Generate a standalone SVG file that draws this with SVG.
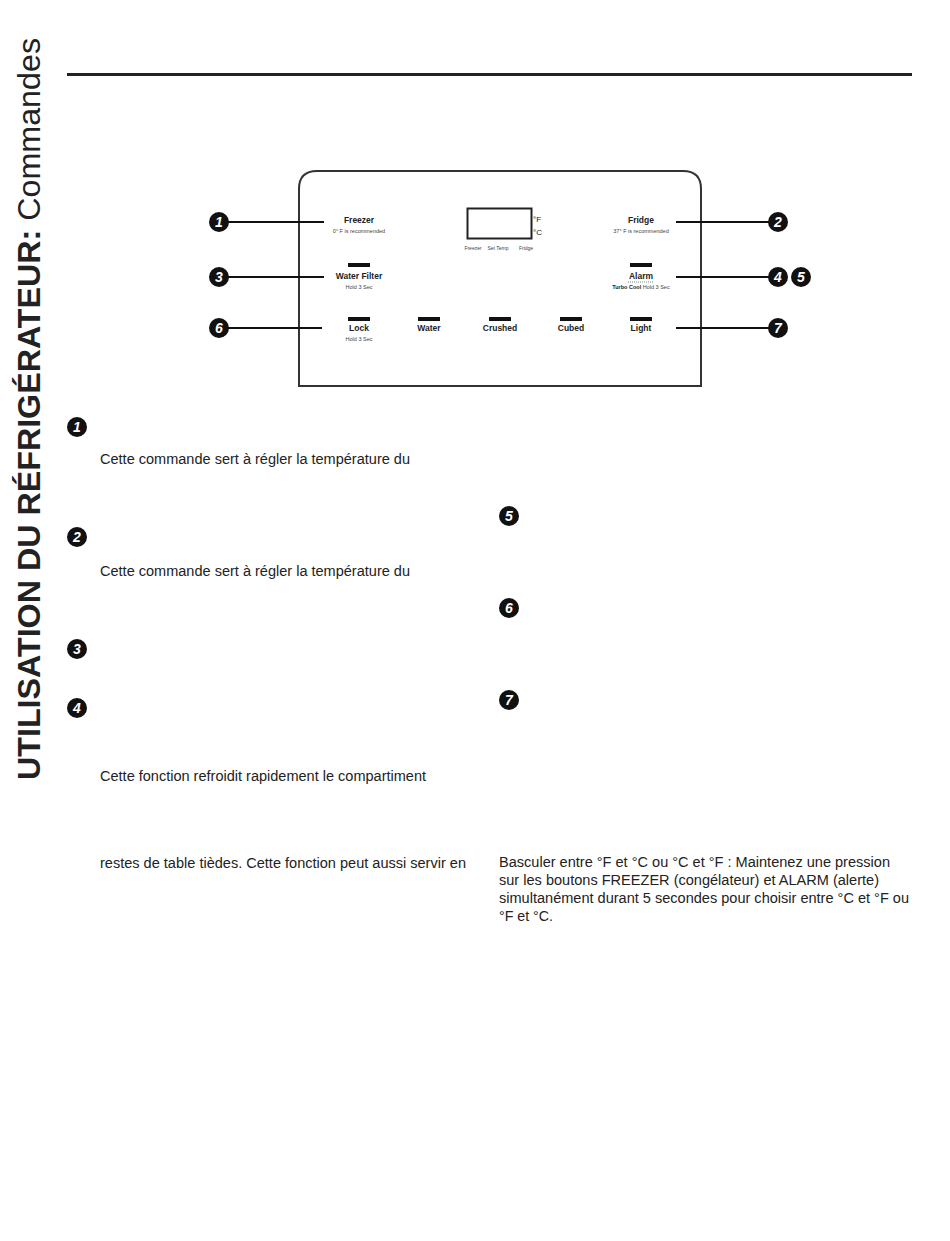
<svg xmlns="http://www.w3.org/2000/svg" width="950" height="1241" viewBox="0 0 950 1241">
<style>
.title{font-family:"Liberation Sans",Arial,sans-serif;font-size:32px;fill:#222}
.body{font-family:"Liberation Sans",Arial,sans-serif;font-size:14px;fill:#222}
.lbl{font-family:"Liberation Sans",Arial,sans-serif;font-size:8.5px;font-weight:bold;fill:#222;text-anchor:middle}
.sm{font-family:"Liberation Sans",Arial,sans-serif;font-size:5.5px;fill:#444;text-anchor:middle}
.tiny{font-family:"Liberation Sans",Arial,sans-serif;font-size:5px;fill:#444;text-anchor:middle}
.unit{font-family:"Liberation Sans",Arial,sans-serif;font-size:8px;fill:#222}
.mk circle{fill:#111}
.mk text{font-family:"Liberation Sans",Arial,sans-serif;font-style:italic;font-weight:bold;font-size:14px;fill:#fff;text-anchor:middle}
.bar{fill:#111}
.conn line{stroke:#111;stroke-width:2}
</style>
<rect width="950" height="1241" fill="#fff"/>
<text class="title" transform="translate(40,780) rotate(-90)" textLength="742" lengthAdjust="spacingAndGlyphs"><tspan font-weight="bold">UTILISATION DU RÉFRIGÉRATEUR:</tspan> Commandes</text>
<rect x="67" y="73" width="845" height="3" fill="#222"/>

<g id="panel">
<path d="M299 386 V189 Q299 171 317 171 H683 Q701 171 701 189 V386 Z" fill="none" stroke="#333" stroke-width="2"/>
<rect x="467.5" y="208.5" width="64" height="30" fill="none" stroke="#222" stroke-width="2"/>
<text class="unit" x="533" y="222">°F</text>
<text class="unit" x="533" y="235">°C</text>
<text class="tiny" x="473" y="250">Freezer</text>
<text class="tiny" x="498" y="250">Set Temp</text>
<text class="tiny" x="526" y="250">Fridge</text>
</g>

<g id="freezer"><text class="lbl" x="359" y="223">Freezer</text><text class="sm" x="359" y="233">0° F is recommended</text></g>
<g id="fridge"><text class="lbl" x="641" y="223">Fridge</text><text class="sm" x="641" y="233">37° F is recommended</text></g>
<g id="waterfilter"><rect class="bar" x="348" y="263" width="22" height="4"/><text class="lbl" x="359" y="279">Water Filter</text><text class="sm" x="359" y="289">Hold 3 Sec</text></g>
<g id="alarm"><rect class="bar" x="630" y="263" width="22" height="4"/><text class="lbl" x="641" y="279">Alarm</text><line x1="628" y1="282" x2="654" y2="282" stroke="#666" stroke-width="0.8" stroke-dasharray="1,1"/><text class="sm" x="641" y="289"><tspan font-weight="bold" fill="#222">Turbo Cool</tspan> Hold 3 Sec</text></g>
<g id="lock"><rect class="bar" x="348" y="317" width="22" height="4"/><text class="lbl" x="359" y="331">Lock</text><text class="sm" x="359" y="341">Hold 3 Sec</text></g>
<g id="water"><rect class="bar" x="418" y="317" width="22" height="4"/><text class="lbl" x="429" y="331">Water</text></g>
<g id="crushed"><rect class="bar" x="489" y="317" width="22" height="4"/><text class="lbl" x="500" y="331">Crushed</text></g>
<g id="cubed"><rect class="bar" x="560" y="317" width="22" height="4"/><text class="lbl" x="571" y="331">Cubed</text></g>
<g id="light"><rect class="bar" x="630" y="317" width="22" height="4"/><text class="lbl" x="641" y="331">Light</text></g>

<g id="connectors" class="conn">
<line x1="228" y1="222" x2="324" y2="222"/>
<line x1="228" y1="277" x2="324" y2="277"/>
<line x1="228" y1="328" x2="322" y2="328"/>
<line x1="676" y1="222" x2="770" y2="222"/>
<line x1="676" y1="277" x2="770" y2="277"/>
<line x1="676" y1="328" x2="770" y2="328"/>
</g>

<g id="m1" class="mk"><circle cx="219" cy="222" r="10"/><text x="219" y="227">1</text></g>
<g id="m3" class="mk"><circle cx="219" cy="277" r="10"/><text x="219" y="282">3</text></g>
<g id="m6" class="mk"><circle cx="219" cy="328" r="10"/><text x="219" y="333">6</text></g>
<g id="m2" class="mk"><circle cx="778" cy="222" r="10"/><text x="778" y="227">2</text></g>
<g id="m4" class="mk"><circle cx="778" cy="277" r="10"/><text x="778" y="282">4</text></g>
<g id="m5" class="mk"><circle cx="801" cy="277" r="10"/><text x="801" y="282">5</text></g>
<g id="m7" class="mk"><circle cx="778" cy="328" r="10"/><text x="778" y="333">7</text></g>

<g id="d1" class="mk"><circle cx="77" cy="427" r="10"/><text x="77" y="432">1</text></g>
<g id="d2" class="mk"><circle cx="77" cy="537" r="10"/><text x="77" y="542">2</text></g>
<g id="d3" class="mk"><circle cx="77" cy="649" r="10"/><text x="77" y="654">3</text></g>
<g id="d4" class="mk"><circle cx="77" cy="708" r="10"/><text x="77" y="713">4</text></g>
<g id="d5" class="mk"><circle cx="509" cy="516" r="10"/><text x="509" y="521">5</text></g>
<g id="d6" class="mk"><circle cx="509" cy="608" r="10"/><text x="509" y="613">6</text></g>
<g id="d7" class="mk"><circle cx="509" cy="700" r="10"/><text x="509" y="705">7</text></g>

<text class="body" x="100" y="464" textLength="310" lengthAdjust="spacingAndGlyphs">Cette commande sert à régler la température du</text>
<text class="body" x="100" y="576" textLength="310" lengthAdjust="spacingAndGlyphs">Cette commande sert à régler la température du</text>
<text class="body" x="100" y="781" textLength="326" lengthAdjust="spacingAndGlyphs">Cette fonction refroidit rapidement le compartiment</text>
<text class="body" x="100" y="868" textLength="366" lengthAdjust="spacingAndGlyphs">restes de table tièdes. Cette fonction peut aussi servir en</text>
<text class="body" x="499" y="867" textLength="391" lengthAdjust="spacingAndGlyphs">Basculer entre °F et °C ou °C et °F : Maintenez une pression</text>
<text class="body" x="499" y="885" textLength="380" lengthAdjust="spacingAndGlyphs">sur les boutons FREEZER (congélateur) et ALARM (alerte)</text>
<text class="body" x="499" y="903" textLength="410" lengthAdjust="spacingAndGlyphs">simultanément durant 5 secondes pour choisir entre °C et °F ou</text>
<text class="body" x="499" y="921" textLength="54" lengthAdjust="spacingAndGlyphs">°F et °C.</text>
</svg>
